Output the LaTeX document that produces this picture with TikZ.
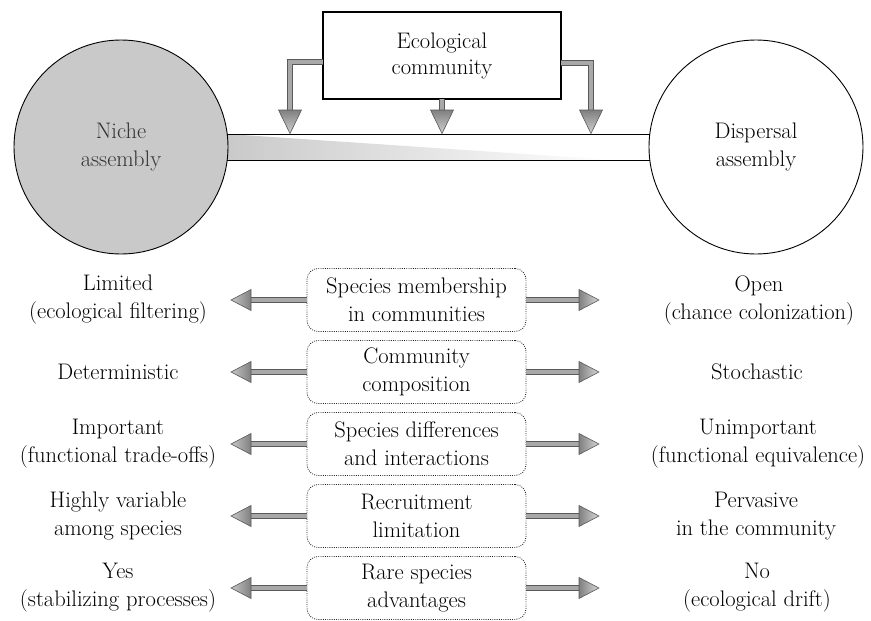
\documentclass[tikz,border=0pt]{standalone}
\usepackage{fontspec}
\usetikzlibrary{calc,backgrounds}
\definecolor{nichegray}{gray}{0.79}
\definecolor{shaftgray}{gray}{0.66}
\definecolor{edgegray}{gray}{0.35}
\begin{document}
\begin{tikzpicture}[x=1pt,y=-1pt,
  txt/.style={font=\fontsize{22.5}{28}\selectfont, align=center, inner sep=0pt},
  circ/.style={circle, draw=black, line width=0.9pt, minimum size=214pt, inner sep=0pt, outer sep=0pt, txt},
  topbox/.style={draw=black, line width=1.1pt, minimum width=238pt, minimum height=87pt, inner sep=0pt, outer sep=0pt, fill=white, font=\fontsize{22.5}{26}\selectfont, align=center},
  propbox/.style={draw=black!85, line width=0.8pt, dash pattern=on 0.9pt off 1.3pt, rounded corners=11pt, minimum width=219pt, minimum height=63pt, inner sep=0pt, outer sep=0pt, txt},
  shaft/.style={draw=edgegray, line width=0.8pt, double=shaftgray, double distance=3.6pt, line join=miter},
  headL/.style={draw=edgegray, line width=0.6pt, left color=black!22, right color=black!50},
  headR/.style={draw=edgegray, line width=0.6pt, left color=black!50, right color=black!15},
  headD/.style={draw=edgegray, line width=0.6pt, top color=black!50, bottom color=black!18},
]
\useasboundingbox (0,0) rectangle (871,621);

% circles
\node[circ, fill=nichegray, text=black!80] (niche) at (121,147) {Niche\\assembly};
\node[circ, fill=white] (disp) at (756,147) {Dispersal\\assembly};

% band between circles
\begin{scope}[on background layer]
  \shade[left color=nichegray, right color=white] (niche.7) -- ($(disp.-173)+(-35,0)$) -- (niche.-7) -- cycle;
\end{scope}
\draw[line width=0.9pt] (niche.7) -- (disp.173);
\draw[line width=0.9pt] (niche.-7) -- (disp.-173);

% ecological community box and its arrows
\node[topbox] (eco) at (442,55.5) {Ecological\\community};
\coordinate (tl) at (290,133.5);
\coordinate (tm) at (442,133.5);
\coordinate (tr) at (591,133.5);
\draw[shaft] ($(eco.west)+(0,6.5)$) -| ($(tl)+(0,-21)$);
\draw[shaft] (eco.south -| tm) -- ($(tm)+(0,-21)$);
\draw[shaft] ($(eco.east)+(0,7.5)$) -| ($(tr)+(0,-21)$);
\foreach \c in {tl,tm,tr}{
  \shadedraw[headD] (\c) -- ($(\c)+(-11.5,-23.5)$) -- ($(\c)+(11.5,-23.5)$) -- cycle;
}

% property rows
\node[propbox] (b1) at (416.5,300) {Species membership\\in communities};
\node[propbox] (b2) at (416.5,372) {Community\\composition};
\node[propbox] (b3) at (416.5,444) {Species differences\\and interactions};
\node[propbox] (b4) at (416.5,516) {Recruitment\\limitation};
\node[propbox] (b5) at (416.5,588) {Rare species\\advantages};

\node[txt] (l1) at (118,300) {Limited\\(ecological filtering)};
\node[txt] (l2) at (118,372) {Deterministic};
\node[txt] (l3) at (118,444) {Important\\(functional trade-offs)};
\node[txt] (l4) at (118,516) {Highly variable\\among species};
\node[txt] (l5) at (118,588) {Yes\\(stabilizing processes)};

\node[txt] (r1) at (759,300) {Open\\(chance colonization)};
\node[txt] (r2) at (757,372) {Stochastic};
\node[txt] (r3) at (758,444) {Unimportant\\(functional equivalence)};
\node[txt] (r4) at (756,516) {Pervasive\\in the community};
\node[txt] (r5) at (757,588) {No\\(ecological drift)};

\foreach \i/\y in {1/300,2/372,3/444,4/516,5/588}{
  \coordinate (pl\i) at (231,\y);
  \coordinate (pr\i) at (599,\y);
}
\foreach \i in {1,...,5}{
  \draw[shaft] (b\i.west) -- ($(pl\i)+(18,0)$);
  \draw[shaft] (b\i.east) -- ($(pr\i)+(-18,0)$);
  \shadedraw[headL] (pl\i) -- ($(pl\i)+(20,-10.5)$) -- ($(pl\i)+(20,10.5)$) -- cycle;
  \shadedraw[headR] (pr\i) -- ($(pr\i)+(-20,-10.5)$) -- ($(pr\i)+(-20,10.5)$) -- cycle;
}
\end{tikzpicture}
\end{document}
